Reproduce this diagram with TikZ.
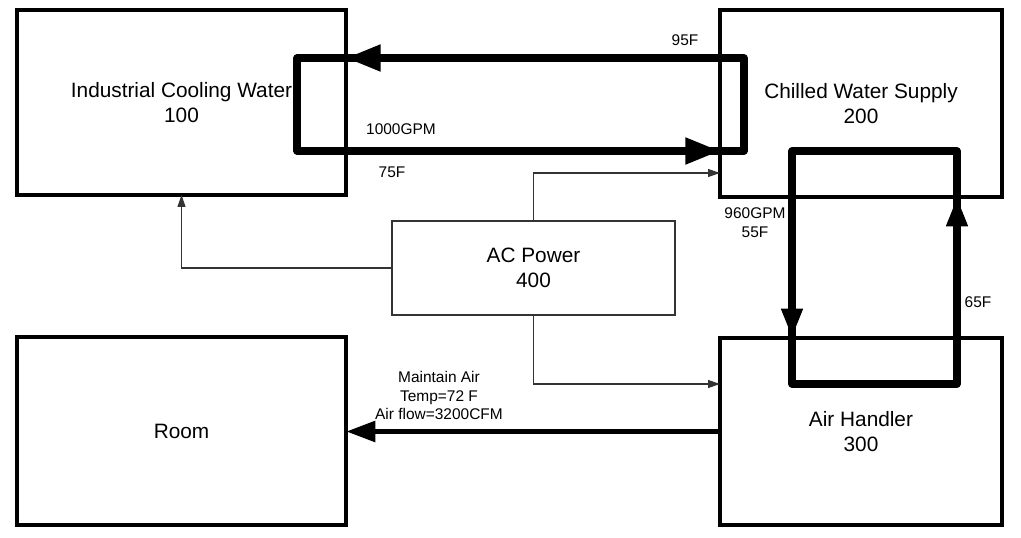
\documentclass[tikz,border=0pt]{standalone}
\usepackage{fontspec}
\setmainfont{Liberation Sans}
\usetikzlibrary{arrows.meta,calc}
\begin{document}
\begin{tikzpicture}[x=0.75pt,y=-0.75pt,
  box/.style={draw, line width=2.4pt, inner sep=0pt, outer sep=0pt, align=center,
    font=\fontsize{15.6}{18.75}\selectfont},
  acbox/.style={draw=black!80, line width=0.8pt, inner sep=0pt, outer sep=0pt, align=center,
    font=\fontsize{15.6}{18.75}\selectfont},
  flow/.style={line width=5.3pt, line join=round},
  airflow/.style={line width=4.2pt},
  bighead/.style={-{Triangle[length=26pt,width=19pt]}},
  midhead/.style={-{Triangle[length=22pt,width=15pt]}},
  power/.style={draw=black!80, line width=0.8pt, -{Triangle[length=9pt,width=6pt]}},
  lbl/.style={inner sep=0pt, align=center, font=\fontsize{11.6}{14.2}\selectfont}
]
\useasboundingbox (0,0) rectangle (1021,538);

% boxes
\node[box, minimum width=329*0.75pt, minimum height=185*0.75pt] (icw) at (181.5,102.5) {Industrial Cooling Water\\100};
\node[box, minimum width=282*0.75pt, minimum height=187*0.75pt] (cws) at (861,103.5) {Chilled Water Supply\\200};
\node[box, minimum width=329*0.75pt, minimum height=188*0.75pt] (room) at (181.5,431) {Room};
\node[box, minimum width=282*0.75pt, minimum height=187*0.75pt] (ah) at (861,431.5) {Air Handler\\300};
\node[acbox, minimum width=283*0.75pt, minimum height=94*0.75pt] (ac) at (533.5,268) {AC Power\\400};

% loop between industrial cooling water and chilled water supply
\coordinate (tl) at (297,58);
\coordinate (tr) at (744,58);
\coordinate (bl) at (297,151);
\coordinate (br) at (744,151);
\draw[flow] (tl) -- (tr) -- (br) -- (bl) -- cycle;
\draw[flow, bighead] (tr) -- (tr -| icw.east);
\draw[flow, bighead] (bl) -- (bl -| cws.west);

% loop between chilled water supply and air handler
\coordinate (ctl) at (792,151);
\coordinate (ctr) at (957,151);
\coordinate (cbl) at (792,384);
\coordinate (cbr) at (957,384);
\draw[flow] (ctl) -- (ctr) -- (cbr) -- (cbl) -- cycle;
\draw[flow, midhead] (ctl) -- (ctl |- ah.north);
\draw[flow, midhead] (cbr) -- (cbr |- cws.south);

% air to room
\draw[airflow, midhead] (ah.west) -- (ah.west -| room.east);

% power lines
\draw[power] (ac.north) |- ([yshift=24*0.75pt]cws.south west);
\draw[power] (ac.south) |- ([yshift=-46*0.75pt]ah.north west);
\draw[power] (ac.west) -| (icw.south);

% labels
\node[lbl] (l95) at (685,40) {95F};
\node[lbl] (lgpm) at (401,129) {1000GPM};
\node[lbl] (l75) at (392,172) {75F};
\node[lbl] (l960) at (755,222.5) {960GPM\\55F};
\node[lbl] (l65) at (978,302) {65F};
\node[lbl] (lair) at (439,395.5) {Maintain Air\\Temp=72 F\\Air flow=3200CFM};
\end{tikzpicture}
\end{document}
